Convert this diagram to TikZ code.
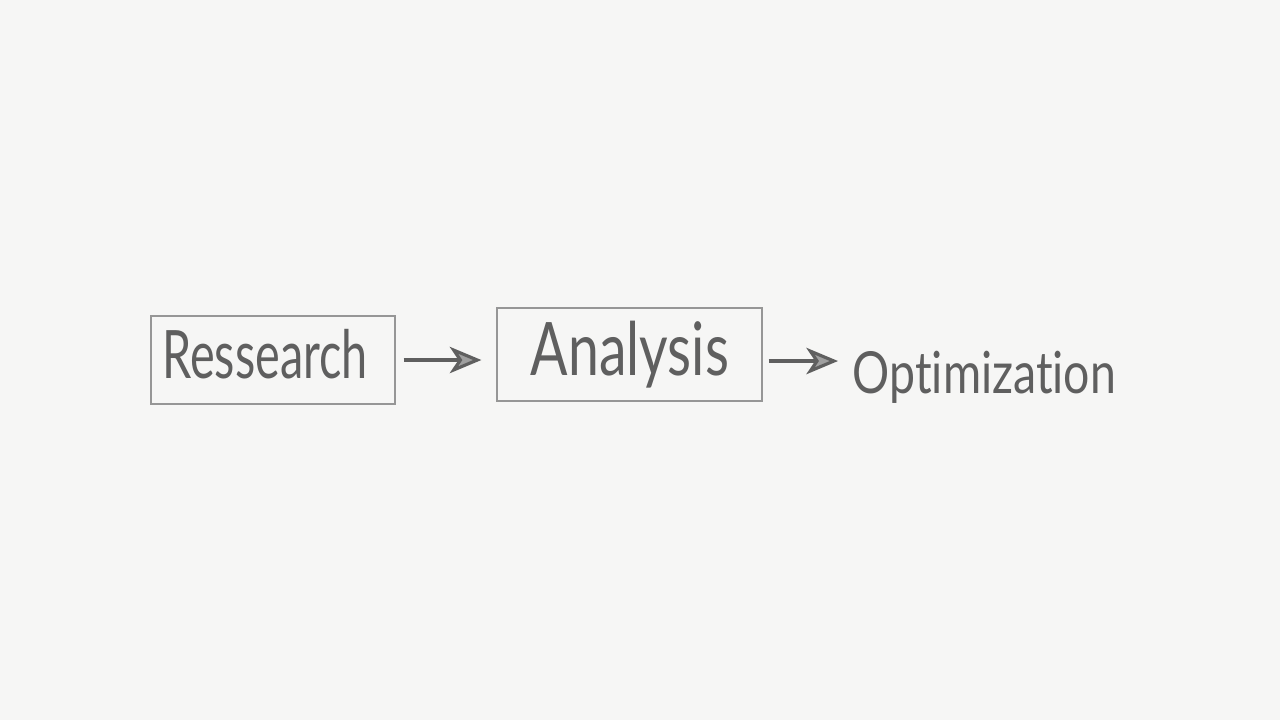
\documentclass[tikz,border=0pt]{standalone}
\usepackage{fontspec}
\newfontfamily\handR[FakeStretch=0.70,Ligatures={NoCommon,NoRequired},Contextuals=NoAlternate]{Lato}
\newfontfamily\handA[FakeStretch=0.75,Ligatures={NoCommon,NoRequired},Contextuals=NoAlternate]{Lato}
\newfontfamily\handO[FakeStretch=0.80,Ligatures={NoCommon,NoRequired},Contextuals=NoAlternate]{Lato}
\usetikzlibrary{arrows.meta}
\definecolor{paper}{RGB}{246,246,245}
\definecolor{pencil}{RGB}{95,95,95}
\definecolor{boxline}{RGB}{150,150,150}
\tikzset{
  sketchbox/.style={draw=boxline, line width=0.35pt, inner sep=0pt, text=pencil},
  plainlabel/.style={inner sep=0pt, text=pencil},
  sketcharrow/.style={draw=pencil, line width=0.9pt, -{Stealth[length=9pt, width=7.5pt, inset=2.5pt, fill=gray!75]}}
}
\begin{document}
\begin{tikzpicture}[x=0.01cm, y=-0.01cm]
  \fill[paper] (0,0) rectangle (1280,720);
  \useasboundingbox (0,0) rectangle (1280,720);
  \node[sketchbox, minimum width=244*0.01cm, minimum height=88*0.01cm] (r) at (273,360) {};
  \node[plainlabel, anchor=base] (rt) at (265,378)
    {\handR\fontsize{19}{22}\selectfont Ressearch};
  \node[sketchbox, minimum width=265*0.01cm, minimum height=93*0.01cm] (a) at (629.5,354.5) {};
  \node[plainlabel, anchor=base] (at) at (630,375)
    {\handA\fontsize{21}{24}\selectfont Analysis};
  \node[plainlabel, anchor=base west] (o) at (852,393)
    {\handO\fontsize{16.5}{19}\selectfont Optimization};
  \coordinate (a2) at ([shift={(6,6.5)}]a.east);
  \draw[sketcharrow] ([xshift=8*0.01cm]r.east) -- ([xshift=-15*0.01cm]a.west |- r.east);
  \draw[sketcharrow] (a2) -- ([xshift=-14*0.01cm]o.west |- a2);
\end{tikzpicture}
\end{document}
